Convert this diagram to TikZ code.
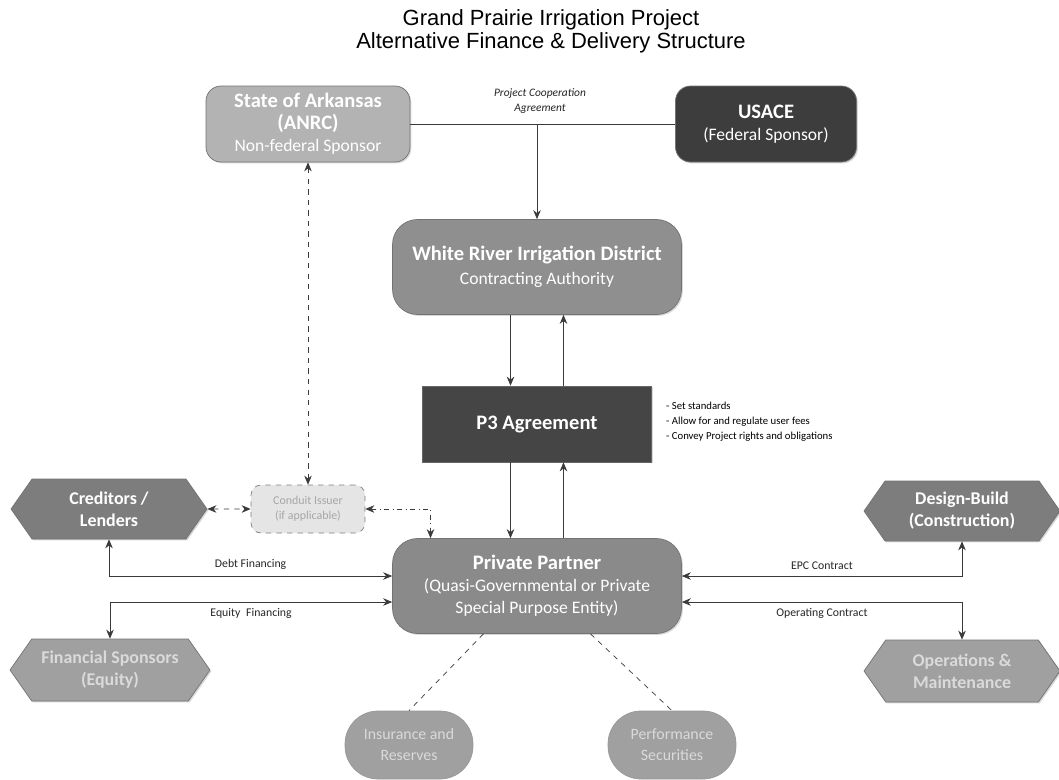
\documentclass[tikz,border=0pt]{standalone}
\usepackage{fontspec}
\setmainfont{Carlito}
\newfontfamily\titlefont{Liberation Sans}
\usetikzlibrary{arrows.meta, shapes.symbols, shadows}
\definecolor{statec}{HTML}{B3B3B3}
\definecolor{usacec}{HTML}{3D3D3D}
\definecolor{wridc}{HTML}{8F8F8F}
\definecolor{pthreec}{HTML}{454545}
\definecolor{partc}{HTML}{8A8A8A}
\definecolor{hexc}{HTML}{7D7D7D}
\definecolor{palec}{HTML}{A0A0A0}
\definecolor{lightc}{HTML}{DADADA}
\definecolor{linec}{HTML}{3A3A3A}
\newcommand{\hd}{\fontsize{11.7}{13}\selectfont\bfseries}

\begin{document}
\begin{tikzpicture}[x=0.02cm, y=-0.02cm, >={Stealth[length=1.8mm,width=1.5mm]},
      font=\fontsize{10}{12.5}\selectfont,
      shade/.style={drop shadow={shadow xshift=0.8pt, shadow yshift=-0.8pt, opacity=0.3}},
      box/.style={draw=black!55, fill=#1, text=white, rounded corners=0.3cm, align=center, inner sep=2pt, shade},
      bigbox/.style={box=#1, rounded corners=0.5cm},
      hexa/.style={signal, signal to=west and east, signal pointer angle=110, draw=black!55, fill=#1, text=white, align=center, font=\fontsize{10.2}{12.5}\selectfont\bfseries, minimum width=3.92cm, minimum height=1.2cm, shade},
      oval/.style={draw=black!40, fill=palec, text=lightc, rounded corners=0.66cm, minimum width=2.56cm, minimum height=1.36cm, align=center, font=\fontsize{9}{12}\selectfont},
      arr/.style={->, thin, draw=linec},
      both/.style={<->, thin, draw=linec},
      lab/.style={font=\fontsize{6.7}{8}\selectfont, text=black!85}]
    \path[use as bounding box, fill=white] (0,0) rectangle (1059,779);
    \node[font=\titlefont\fontsize{12.5}{13.1}\selectfont, align=center] (title) at (551,31) {Grand Prairie Irrigation Project\\Alternative Finance \& Delivery Structure};
    \node[box=statec, minimum width=4.08cm, minimum height=1.52cm] (state) at (308,124) {{\hd State of Arkansas}\\{\hd (ANRC)}\\Non-federal Sponsor};
    \node[box=usacec, minimum width=3.62cm, minimum height=1.52cm] (usace) at (766,124) {{\hd USACE}\\(Federal Sponsor)};
    \node[lab, font=\fontsize{6.5}{8}\selectfont\itshape, align=center] (pca) at (540,101) {Project Cooperation\\Agreement};
    \coordinate (pcadrop) at (537,124);
    \node[bigbox=wridc, minimum width=5.78cm, minimum height=1.9cm] (wrid) at (537,267) {{\hd White River Irrigation District}\\[1pt]Contracting Authority};
    \node[draw=black!60, fill=pthreec, text=white, minimum width=4.58cm, minimum height=1.52cm, font=\hd, shade] (p3) at (537,424) {P3 Agreement};
    \node[anchor=west, align=left, font=\fontsize{6.1}{8.5}\selectfont] (notes) at (660,422) {- Set standards\\- Allow for and regulate user fees\\- Convey Project rights and obligations};
    \node[bigbox=partc, minimum width=5.78cm, minimum height=1.9cm] (pp) at (537,586) {{\hd Private Partner}\\(Quasi-Governmental or Private\\Special Purpose Entity)};
    \node[draw=black!50, dashed, fill=black!10, text=black!35, rounded corners=0.2cm, minimum width=2.28cm, minimum height=0.96cm, align=center, font=\fontsize{6.8}{8.5}\selectfont] (cond) at (308,509) {Conduit Issuer\\(if applicable)};
    \node[hexa=hexc] (cred) at (109,509) {Creditors /\\Lenders};
    \node[hexa=palec, text=lightc, minimum width=4cm, minimum height=1.24cm] (fins) at (110,670) {Financial Sponsors\\(Equity)};
    \node[hexa=hexc] (db) at (962,511) {Design-Build\\(Construction)};
    \node[hexa=palec, text=lightc, minimum height=1.24cm] (om) at (962,671) {Operations \&\\Maintenance};
    \node[oval] (ins) at (409,745) {Insurance and\\Reserves};
    \node[oval] (perf) at (672,745) {Performance\\Securities};
    \draw[thin, linec] (state) -- (usace);
    \draw[arr] (pcadrop) -- (pcadrop |- wrid.north);
    \draw[arr] ([xshift=-0.53cm]wrid.south) -- ([xshift=-0.53cm]p3.north);
    \draw[arr] ([xshift=0.53cm]p3.north) -- ([xshift=0.53cm]wrid.south);
    \draw[arr] ([xshift=-0.53cm]p3.south) -- ([xshift=-0.53cm]pp.north);
    \draw[arr] ([xshift=0.53cm]pp.north) -- ([xshift=0.53cm]p3.south);
    \draw[both, dashed] (state) -- (cond);
    \draw[both, dashed] (cred) -- (cond);
    \draw[both, dashdotted] (cond.east) -| ([xshift=-2.13cm]pp.north);
    \draw[both] (cred.south) |- node[lab, pos=0.75, above] {Debt Financing} ([yshift=0.2cm]pp.west);
    \draw[both] ([yshift=-0.32cm]pp.west) -| node[lab, pos=0.25, below] {Equity\enspace Financing} (fins.north);
    \draw[both] ([yshift=0.2cm]pp.east) -| node[lab, pos=0.25, above] {EPC Contract} (db.south);
    \draw[both] ([yshift=-0.32cm]pp.east) -| node[lab, pos=0.25, below] {Operating Contract} (om.north);
    \draw[dashed, linec] ([xshift=-1.07cm]pp.south) -- (ins.north);
    \draw[dashed, linec] ([xshift=1.07cm]pp.south) -- (perf.north);
\end{tikzpicture}
\end{document}
